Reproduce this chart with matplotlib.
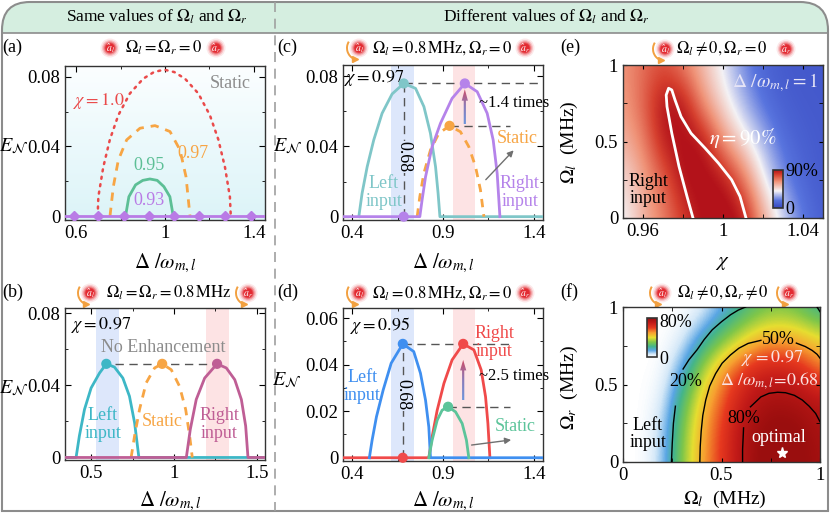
import numpy as np
import matplotlib
matplotlib.use('Agg')
from matplotlib import pyplot as plt, patches, colors
from matplotlib.path import Path

plt.rcParams['font.family'] = ['Liberation Serif', 'DejaVu Serif']
plt.rcParams['mathtext.fontset'] = 'stix'
plt.rcParams['font.size'] = 12
plt.rcParams['axes.linewidth'] = 1.0
plt.rcParams['axes.edgecolor'] = '#333333'

W, H = 830, 513

# ---------------- data ----------------
# (a) static, Omega_l = Omega_r = 0
a_chi10_x = [0.697, 0.700, 0.722, 0.752, 0.790, 0.842, 0.902, 0.950, 0.996, 1.042, 1.090, 1.150, 1.202, 1.240, 1.270, 1.292, 1.296]
a_chi10_y = [0, 0.011, 0.028, 0.044, 0.058, 0.0705, 0.079, 0.0828, 0.0842, 0.0828, 0.079, 0.0705, 0.058, 0.044, 0.028, 0.011, 0]
a_chi097_x = [0.7525, 0.7675, 0.790, 0.8275, 0.8875, 0.955, 1.0225, 1.0675, 1.0945, 1.1125]
a_chi097_y = [0, 0.0169, 0.0322, 0.0438, 0.0505, 0.052, 0.0486, 0.038, 0.0226, 0]
a_chi095_x = [0.8225, 0.8375, 0.8675, 0.900, 0.932, 0.965, 0.995, 1.022, 1.037]
a_chi095_y = [0, 0.0111, 0.0179, 0.0205, 0.0213, 0.0205, 0.0169, 0.0111, 0]
a_chi093_x = [0.55, 0.59, 0.70, 0.815, 0.93, 1.04, 1.155, 1.27, 1.385, 1.45]
a_chi093_y = [0, 0, 0, 0, 0, 0, 0, 0, 0, 0]

# (b) Omega_l = Omega_r = 0.8 MHz, chi = 0.97
b_left_x = [0.34, 0.407, 0.427, 0.458, 0.498, 0.549, 0.590, 0.639, 0.690, 0.730, 0.761, 0.787, 1.55]
b_left_y = [0, 0, 0.012, 0.0267, 0.0386, 0.0469, 0.052, 0.0502, 0.0441, 0.034, 0.0193, 0, 0]
b_right_x = [0.34, 1.074, 1.098, 1.134, 1.185, 1.26, 1.316, 1.367, 1.407, 1.433, 1.447, 1.55]
b_right_y = [0, 0, 0.0156, 0.0322, 0.0441, 0.052, 0.0497, 0.0432, 0.0322, 0.0175, 0, 0]
b_static_x = [0.740, 0.761, 0.791, 0.831, 0.882, 0.928, 0.983, 1.033, 1.070, 1.094, 1.110]
b_static_y = [0, 0.012, 0.0267, 0.0414, 0.0497, 0.052, 0.0487, 0.0395, 0.0267, 0.012, 0]
b_peak_x = [0.59, 0.928, 1.26]
b_peak_y = [0.052, 0.052, 0.052]

# (c) Omega_l = 0.8 MHz, Omega_r = 0, chi = 0.97
c_left_x = [0.437, 0.455, 0.483, 0.519, 0.565, 0.620, 0.684, 0.749, 0.795, 0.831, 0.859, 0.873, 0.883, 1.45]
c_left_y = [0, 0.0133, 0.0284, 0.0436, 0.0588, 0.0698, 0.0758, 0.073, 0.0626, 0.0474, 0.0284, 0.0133, 0, 0]
c_right_x = [0.35, 0.7725, 0.785, 0.804, 0.840, 0.886, 0.950, 1.020, 1.088, 1.143, 1.176, 1.198, 1.213]
c_right_y = [0, 0, 0.0095, 0.0227, 0.0398, 0.0531, 0.0673, 0.0758, 0.0711, 0.0588, 0.0436, 0.0246, 0]
c_static_x = [0.758, 0.7725, 0.7945, 0.831, 0.877, 0.936, 0.996, 1.042, 1.079, 1.106, 1.125]
c_static_y = [0, 0.0114, 0.0246, 0.0379, 0.0474, 0.0517, 0.0483, 0.0398, 0.0284, 0.0152, 0]

# (d) Omega_l = 0.8 MHz, Omega_r = 0, chi = 0.95
d_left_x = [0.495, 0.510, 0.534, 0.571, 0.615, 0.679, 0.739, 0.776, 0.804, 0.822, 0.831, 1.45]
d_left_y = [0, 0.0075, 0.0176, 0.0291, 0.0406, 0.0489, 0.0456, 0.0363, 0.0247, 0.0132, 0, 0]
d_right_x = [0.35, 0.822, 0.840, 0.868, 0.905, 0.950, 1.011, 1.070, 1.110, 1.134, 1.147, 1.158]
d_right_y = [0, 0, 0.0089, 0.0204, 0.0319, 0.042, 0.0489, 0.0463, 0.0377, 0.0262, 0.0147, 0]
d_static_x = [0.822, 0.840, 0.868, 0.895, 0.928, 0.969, 1.0055, 1.029, 1.042]
d_static_y = [0, 0.0075, 0.0161, 0.0204, 0.0219, 0.0197, 0.0147, 0.0075, 0]

# (e) eta (%) vs chi and Omega_l
e_chi = [0.95, 0.96, 0.97, 0.98, 0.99, 1.00, 1.01, 1.02, 1.03, 1.04, 1.05]
e_om = [0, 0.25, 0.5, 0.75, 1.0]
e_eta = [[38, 55, 66, 80, 91, 94, 91, 58, 36, 18, 10],
         [45, 58, 72, 91, 93, 91, 70, 40, 22, 12, 8],
         [55, 65, 88, 92, 90.5, 62, 45, 30, 15, 10, 8],
         [60, 72, 91, 90.5, 62, 45, 30, 16, 10, 8, 8],
         [62, 70, 76, 66, 52, 38, 22, 12, 8, 8, 8]]
e_c90_x = [0.985, 0.982, 0.978, 0.9744, 0.972, 0.9716, 0.9728, 0.9744, 0.976, 0.979, 0.984, 0.991, 0.9977, 1.0043, 1.0085, 1.0115]
e_c90_y = [0, 0.141, 0.337, 0.554, 0.728, 0.804, 0.848, 0.837, 0.772, 0.663, 0.554, 0.457, 0.359, 0.25, 0.141, 0]

# (f) eta (%) vs Omega_l and Omega_r
f_oml = [0, 0.1, 0.2, 0.3, 0.4, 0.5, 0.6, 0.7, 0.8, 0.9, 1.0]
f_omr = [0, 0.2, 0.4, 0.6, 0.8, 1.0]
f_eta = [[0, 0, 9, 34, 52, 65, 79, 86, 88, 86, 82],
         [0, 0, 8, 32, 51, 64, 79, 85, 87, 85, 81],
         [0, 0, 4, 26, 47, 60, 73, 81, 82, 80.5, 77],
         [0, 0, 1, 14, 36, 53, 64, 71, 72, 68, 57],
         [0, 0, 0, 4, 17, 30, 41, 50, 51, 49, 43],
         [0, 0, 0, 0, 3, 12, 21, 28, 31, 27, 19]]
f_c20a_x = [0.246, 0.250, 0.256, 0.266]
f_c20a_y = [0, 0.12, 0.25, 0.36]
f_c20b_x = [0.305, 0.335, 0.376, 0.412, 0.453, 0.500, 0.546, 0.585, 0.622]
f_c20b_y = [0.60, 0.66, 0.724, 0.79, 0.853, 0.905, 0.950, 0.98, 1.0]
f_c20c_x = [0.985, 1.0]
f_c20c_y = [1.0, 0.97]
f_c50a_x = [0.390, 0.392, 0.397, 0.405, 0.420, 0.440, 0.470, 0.503, 0.545, 0.588, 0.635, 0.700]
f_c50a_y = [0, 0.10, 0.20, 0.30, 0.40, 0.49, 0.57, 0.637, 0.69, 0.734, 0.765, 0.785]
f_c50b_x = [0.880, 0.925, 0.960, 0.985, 1.0]
f_c50b_y = [0.767, 0.745, 0.72, 0.695, 0.67]
f_c80a_x = [0.607, 0.607, 0.610, 0.612]
f_c80a_y = [0, 0.08, 0.16, 0.22]
f_c80b_x = [0.647, 0.70, 0.741, 0.785, 0.825, 0.87, 0.91, 0.945, 0.978, 1.0]
f_c80b_y = [0.356, 0.42, 0.443, 0.45, 0.447, 0.43, 0.40, 0.36, 0.313, 0.26]
f_opt = (0.805, 0.06)

# ---------------- figure ----------------
fig = plt.figure(figsize=(W / 100, H / 100), dpi=100)
ov = fig.add_axes([0, 0, 1, 1])
ov.set_xlim(0, W)
ov.set_ylim(H, 0)
ov.axis('off')

# outer frame with rounded top corners, header band
r = 28
def frame_path(ybot):
    verts = [(2, ybot), (2, 2 + r), (2, 2), (2 + r, 2), (W - 2 - r, 2), (W - 2, 2),
             (W - 2, 2 + r), (W - 2, ybot)]
    codes = [Path.MOVETO, Path.LINETO, Path.CURVE3, Path.CURVE3, Path.LINETO,
             Path.CURVE3, Path.CURVE3, Path.LINETO]
    return Path(verts, codes)

ov.add_patch(patches.PathPatch(frame_path(33), fc='#d5eee0', ec='none'))
ov.add_patch(patches.PathPatch(frame_path(511), fc='none', ec='#8c8c8c', lw=1.5))
ov.plot([2, W - 2], [511, 511], color='#8c8c8c', lw=1.5)
ov.plot([2, W - 2], [33, 33], color='#8c8c8c', lw=1.2)
ov.plot([275, 275], [2, 511], color='#a0a0a0', lw=1.2, ls=(0, (6, 4)))

ov.text(157, 17, r'Same values of $\Omega_l$ and $\Omega_r$', ha='center', va='center', fontsize=12.5)
ov.text(546, 17, r'Different values of $\Omega_l$ and $\Omega_r$', ha='center', va='center', fontsize=12.5)


def icon(cx, cy, sub, spin=False):
    for rr, al in [(9.5, 0.10), (8, 0.18), (6.8, 0.3), (5.6, 0.55), (4.6, 0.9)]:
        ov.add_patch(patches.Circle((cx, cy), rr, color='#e3262e', alpha=al, lw=0))
    ov.text(cx, cy + 0.5, r'$\hat{a}_%s$' % sub, color='white', fontsize=7, ha='center', va='center')
    if spin:
        ov.add_patch(patches.Arc((cx, cy), 24, 24, theta1=115, theta2=212, color='#f2a040', lw=1.4))
        ov.plot([cx - 4], [cy + 11.2], marker='>', color='#f2a040', ms=4)


titles = [(110, 216, 48, r'$\Omega_l=\Omega_r=0$', 163, False, False),
          (90, 248, 293, r'$\Omega_l=\Omega_r=0.8\,\mathrm{MHz}$', 169, True, True),
          (359, 525, 48, r'$\Omega_l=0.8\,\mathrm{MHz},\Omega_r=0$', 442, True, False),
          (359, 525, 293, r'$\Omega_l=0.8\,\mathrm{MHz},\Omega_r=0$', 442, True, False),
          (665, 786, 49, r'$\Omega_l\neq0,\Omega_r=0$', 722, True, False),
          (662, 789, 293, r'$\Omega_l\neq0,\Omega_r\neq0$', 723, True, True)]
for xl, xr, yy, txt, xt, spl, spr in titles:
    icon(xl, yy, 'l', spl)
    icon(xr, yy, 'r', spr)
    ov.text(xt, yy, txt, ha='center', va='center', fontsize=12)

for lab, x, y in [('(a)', 2, 47), ('(b)', 2, 292), ('(c)', 277, 47), ('(d)', 277, 292),
                  ('(e)', 560, 47), ('(f)', 560, 292)]:
    ov.text(x, y, lab, ha='left', va='center', fontsize=13)

xl_txt = r'$\Delta\ /\omega_{m,l}$'
for x, y in [(165, 263), (170, 501), (443, 263), (443, 501)]:
    ov.text(x, y, xl_txt, ha='center', va='center', fontsize=15)
for x, y in [(14, 146), (14, 388), (288, 146), (287, 380)]:
    ov.text(x, y, r'$E_{\mathcal{N}}$', ha='center', va='center', fontsize=14.5)
ov.text(722, 262, r'$\chi$', ha='center', va='center', fontsize=15)
ov.text(725, 499, r'$\Omega_l$  (MHz)', ha='center', va='center', fontsize=14)
ov.text(569, 142, r'$\Omega_l$  (MHz)', ha='center', va='center', fontsize=14, rotation=90)
ov.text(569, 387, r'$\Omega_r$  (MHz)', ha='center', va='center', fontsize=14, rotation=90)
ov.text(767, 188, r'$\eta$', ha='center', va='center', fontsize=15)
ov.text(641, 338, r'$\eta$', ha='center', va='center', fontsize=15)


def add_ax(x0, y0, x1, y1):
    ax = fig.add_axes([x0 / W, 1 - y1 / H, (x1 - x0) / W, (y1 - y0) / H])
    ax.tick_params(which='both', direction='in', top=True, right=True, labelsize=13.5, pad=3.5)
    ax.tick_params(which='major', length=4)
    ax.tick_params(which='minor', length=2.5)
    return ax


def guide(ax, xs, ys):
    ax.plot(xs, ys, color='#555555', lw=1.0, ls=(0, (6, 4)), zorder=2)


arrow_cmap = colors.LinearSegmentedColormap.from_list('arr', ['#6d95dc', '#8a7ab8', '#d04a64'])


def grad_arrow(ax, x, y0, y1, w, hw, hl):
    arr = patches.FancyArrow(x, y0, 0, y1 - y0, width=w, head_width=hw, head_length=hl,
                             length_includes_head=True, fc='none', ec='none')
    ax.add_patch(arr)
    g = np.linspace(0, 1, 60).reshape(-1, 1)
    im = ax.imshow(g, extent=[x - hw, x + hw, y0, y1], origin='lower', aspect='auto',
                   cmap=arrow_cmap, zorder=4)
    im.set_clip_path(arr)


def gray_arrow(ax, tail, tip):
    ax.annotate('', xy=tip, xytext=tail,
                arrowprops=dict(arrowstyle='-|>', color='#707070', lw=1.0, mutation_scale=9), zorder=4)


FS = 13  # annotation text size

# ---------------- (a) ----------------
ax = add_ax(65, 66, 265, 220)
bg = colors.LinearSegmentedColormap.from_list('bg', ['#dcf4f8', '#fbfeff'])
ax.imshow(np.linspace(0, 1, 100).reshape(-1, 1), extent=[0, 1, 0, 1], transform=ax.transAxes,
          origin='lower', aspect='auto', cmap=bg, zorder=0)
ax.plot(a_chi10_x, a_chi10_y, color='#ea4a4a', lw=1.8, ls=(0, (0.8, 2.2)), dash_capstyle='round', zorder=3)
ax.plot(a_chi097_x, a_chi097_y, color='#f7a544', lw=2.0, ls=(0, (3, 2.5)), zorder=3)
ax.plot(a_chi095_x, a_chi095_y, color='#5cbf96', lw=2.0, zorder=3)
ax.plot(a_chi093_x, a_chi093_y, color='#b97be6', lw=2.0, zorder=4)
ax.plot(a_chi093_x[1:-1], a_chi093_y[1:-1], ls='none', marker='D', ms=5, color='#b97be6', zorder=5)
ax.set_xlim(0.55, 1.45)
ax.set_ylim(-0.0023, 0.0863)
ax.set_xticks([0.6, 1.0, 1.4], ['0.6', '1', '1.4'])
ax.set_xticks([0.8, 1.2], minor=True)
ax.set_yticks([0, 0.04, 0.08], ['0', '0.04', '0.08'])
ax.set_yticks([0.02, 0.06], minor=True)
ax.text(1.2925, 0.076, 'Static', color='#8c8c8c', ha='center', va='center', fontsize=FS)
ax.text(0.7025, 0.0659, r'$\chi=1.0$', color='#ea4a4a', ha='center', va='center', fontsize=FS)
ax.text(1.1275, 0.0357, '0.97', color='#f7a544', ha='center', va='center', fontsize=FS)
ax.text(0.9275, 0.0288, '0.95', color='#5cbf96', ha='center', va='center', fontsize=FS)
ax.text(0.9275, 0.0092, '0.93', color='#b97be6', ha='center', va='center', fontsize=FS)

# ---------------- (b) ----------------
ax = add_ax(65, 308, 265, 460)
ax.axvspan(0.528, 0.666, color='#dde7fb', lw=0, zorder=0.5)
ax.axvspan(1.195, 1.332, color='#fde3e4', lw=0, zorder=0.5)
guide(ax, [0.64, 1.22], [0.052, 0.052])
ax.plot(b_left_x, b_left_y, color='#3db7c6', lw=2.0, zorder=3)
ax.plot(b_static_x, b_static_y, color='#f7a544', lw=2.0, ls=(0, (3, 2.5)), zorder=3)
ax.plot(b_right_x, b_right_y, color='#bf5e95', lw=2.0, zorder=3)
ax.scatter(b_peak_x, b_peak_y, s=40, c=['#3db7c6', '#f7a544', '#bf5e95'], zorder=5)
ax.set_xlim(0.34, 1.55)
ax.set_ylim(-0.0014, 0.083)
ax.set_xticks([0.5, 1.0, 1.5], ['0.5', '1', '1.5'])
ax.set_xticks([0.75, 1.25], minor=True)
ax.set_yticks([0, 0.04, 0.08], ['0', '0.04', '0.08'])
ax.set_yticks([0.02, 0.06], minor=True)
ax.text(0.5586, 0.0736, r'$\chi=0.97$', ha='center', va='center', fontsize=FS)
ax.text(0.932, 0.061, 'No Enhancement', color='#8c8c8c', ha='center', va='center', fontsize=FS)
ax.text(0.569, 0.0184, 'Left\ninput', color='#3db7c6', ha='center', va='center', fontsize=FS, linespacing=1.05)
ax.text(0.928, 0.0197, 'Static', color='#f7a544', ha='center', va='center', fontsize=FS)
ax.text(1.272, 0.0184, 'Right\ninput', color='#bf5e95', ha='center', va='center', fontsize=FS, linespacing=1.05)

# ---------------- (c) ----------------
ax = add_ax(343, 65, 543, 220)
ax.axvspan(0.6165, 0.743, color='#dde7fb', lw=0, zorder=0.5)
ax.axvspan(0.954, 1.075, color='#fde3e4', lw=0, zorder=0.5)
guide(ax, [0.684, 1.437], [0.0758, 0.0758])
guide(ax, [0.936, 1.268], [0.0517, 0.0517])
guide(ax, [0.684, 0.684], [0, 0.0758])
ax.plot(c_left_x, c_left_y, color='#7fc6c8', lw=2.0, zorder=3)
ax.plot(c_static_x, c_static_y, color='#f7a544', lw=2.0, ls=(0, (3, 2.5)), zorder=3)
ax.plot(c_right_x, c_right_y, color='#b583ea', lw=2.0, zorder=3)
ax.scatter([0.684, 0.684, 1.02, 0.936], [0.0758, 0, 0.0758, 0.0517], s=40,
           c=['#7fc6c8', '#b583ea', '#b583ea', '#f7a544'], zorder=5, clip_on=False)
grad_arrow(ax, 1.02, 0.0525, 0.0725, 0.012, 0.034, 0.0065)
gray_arrow(ax, (1.125, 0.0199), (1.299, 0.0389))
ax.set_xlim(0.35, 1.45)
ax.set_ylim(-0.0019, 0.0863)
ax.set_xticks([0.4, 0.9, 1.4], ['0.4', '0.9', '1.4'])
ax.set_xticks([0.65, 1.15], minor=True)
ax.set_yticks([0, 0.04, 0.08], ['0', '0.04', '0.08'])
ax.set_yticks([0.02, 0.06], minor=True)
ax.text(0.684, 0.034, '0.68', rotation=270, ha='center', va='center', fontsize=FS,
        bbox=dict(fc='#dde7fb', ec='none', pad=0.5), zorder=3)
ax.text(0.52, 0.079, r'$\chi=0.97$', ha='center', va='center', fontsize=FS)
ax.text(1.097, 0.0645, '~1.4 times', ha='left', va='center', fontsize=12)
ax.text(1.308, 0.0445, 'Static', color='#f7a544', ha='center', va='center', fontsize=FS)
ax.text(0.574, 0.0137, 'Left\ninput', color='#7fc6c8', ha='center', va='center', fontsize=FS, linespacing=1.05)
ax.text(1.323, 0.0137, 'Right\ninput', color='#b583ea', ha='center', va='center', fontsize=FS, linespacing=1.05)

# ---------------- (d) ----------------
ax = add_ax(343, 308, 543, 461)
ax.axvspan(0.6165, 0.743, color='#dde7fb', lw=0, zorder=0.5)
ax.axvspan(0.954, 1.075, color='#fde3e4', lw=0, zorder=0.5)
guide(ax, [0.679, 1.272], [0.0489, 0.0489])
guide(ax, [0.928, 1.27], [0.0219, 0.0219])
guide(ax, [0.679, 0.679], [0, 0.0489])
ax.plot(d_right_x, d_right_y, color='#f04a4a', lw=2.0, zorder=3)
ax.plot(d_left_x, d_left_y, color='#3f8ff0', lw=2.0, zorder=3)
ax.plot(d_static_x, d_static_y, color='#5cc49a', lw=2.0, zorder=3)
ax.scatter([0.679, 0.679, 1.011, 0.928], [0.0489, 0, 0.0489, 0.0219], s=40,
           c=['#3f8ff0', '#f04a4a', '#f04a4a', '#5cc49a'], zorder=5, clip_on=False)
grad_arrow(ax, 1.011, 0.0247, 0.042, 0.012, 0.034, 0.0045)
gray_arrow(ax, (1.042, 0.0053), (1.29, 0.0078))
ax.set_xlim(0.35, 1.45)
ax.set_ylim(-0.0014, 0.0643)
ax.set_xticks([0.4, 0.9, 1.4], ['0.4', '0.9', '1.4'])
ax.set_xticks([0.65, 1.15], minor=True)
ax.set_yticks([0, 0.02, 0.04, 0.06], ['0', '0.02', '0.04', '0.06'])
ax.set_yticks([0.01, 0.03, 0.05], minor=True)
ax.text(0.679, 0.027, '0.68', rotation=270, ha='center', va='center', fontsize=FS,
        bbox=dict(fc='#dde7fb', ec='none', pad=0.5), zorder=3)
ax.text(0.556, 0.0567, r'$\chi=0.95$', ha='center', va='center', fontsize=FS)
ax.text(1.097, 0.0351, '~2.5 times', ha='left', va='center', fontsize=12)
ax.text(1.295, 0.0135, 'Static', color='#5cc49a', ha='center', va='center', fontsize=FS)
ax.text(0.455, 0.0305, 'Left\ninput', color='#3f8ff0', ha='center', va='center', fontsize=FS, linespacing=1.05)
ax.text(1.183, 0.0495, 'Right\ninput', color='#f04a4a', ha='center', va='center', fontsize=FS, linespacing=1.05)

# ---------------- (e) ----------------
ax = add_ax(623, 65, 823, 218)
cm_e = colors.LinearSegmentedColormap.from_list(
    'e', [(0, '#3646bf'), (0.2, '#5874de'), (0.45, '#f4f2f5'), (0.7, '#ef9277'),
          (0.88, '#d6402f'), (1.0, '#b3121a')])
im_e = ax.imshow(np.array(e_eta), extent=[0.945, 1.055, -0.125, 1.125], origin='lower',
                 aspect='auto', cmap=cm_e, vmin=0, vmax=90, interpolation='bicubic', zorder=0)
ax.plot(e_c90_x, e_c90_y, color='white', lw=2.0, zorder=3)
ax.set_xlim(0.95, 1.05)
ax.set_ylim(0, 1)
ax.set_xticks([0.96, 1.0, 1.04], ['0.96', '1', '1.04'])
ax.set_xticks([0.98, 1.02], minor=True)
ax.set_yticks([0, 0.5, 1], ['0', '0.5', '1'])
ax.set_yticks([0.25, 0.75], minor=True)
ax.tick_params(which='both', length=3)
ax.text(1.026, 0.882, r'$\Delta\ /\omega_{m,l}=1$', color='#e6e4f6', ha='center', va='center', fontsize=14)
ax.text(1.01, 0.523, r'$\eta=90\%$', color='white', ha='center', va='center', fontsize=15)
ax.text(0.9625, 0.183, 'Right\ninput', ha='center', va='center', fontsize=FS, linespacing=1.05)
cax = fig.add_axes([773 / W, 1 - 208 / H, 10 / W, 38 / H])
cb = fig.colorbar(im_e, cax=cax, ticks=[0, 90])
cb.ax.set_yticklabels(['0', '90%'])
cb.ax.tick_params(length=0, labelsize=13, pad=2)
cb.outline.set_linewidth(1.2)

# ---------------- (f) ----------------
ax = add_ax(623, 307, 820, 462)
cm_f = colors.LinearSegmentedColormap.from_list(
    'f', [(0, '#ffffff'), (0.07, '#d4e8f8'), (0.17, '#5aa6e4'), (0.27, '#44b58a'),
          (0.38, '#7ec64a'), (0.50, '#e6de30'), (0.62, '#f7a030'), (0.75, '#e6391f'),
          (0.88, '#c21a18'), (1.0, '#9a0e0e')])
im_f = ax.imshow(np.array(f_eta), extent=[-0.05, 1.05, -0.1, 1.1], origin='lower',
                 aspect='auto', cmap=cm_f, vmin=0, vmax=85, interpolation='bicubic', zorder=0)
for cx, cy in [(f_c20a_x, f_c20a_y), (f_c20b_x, f_c20b_y), (f_c20c_x, f_c20c_y),
               (f_c50a_x, f_c50a_y), (f_c50b_x, f_c50b_y),
               (f_c80a_x, f_c80a_y), (f_c80b_x, f_c80b_y)]:
    ax.plot(cx, cy, color='black', lw=1.0, zorder=3)
ax.plot([f_opt[0]], [f_opt[1]], marker='*', color='white', ms=8, ls='none', zorder=4)
ax.set_xlim(0, 1)
ax.set_ylim(0, 1)
ax.set_xticks([0, 0.5, 1], ['0', '0.5', '1'])
ax.set_xticks([0.25, 0.75], minor=True)
ax.set_yticks([0, 0.5, 1], ['0', '0.5', '1'])
ax.set_yticks([0.25, 0.75], minor=True)
ax.tick_params(which='both', length=3)
ax.text(0.317, 0.518, '20%', ha='center', va='center', fontsize=FS)
ax.text(0.79, 0.79, '50%', ha='center', va='center', fontsize=FS)
ax.text(0.614, 0.281, '80%', ha='center', va='center', fontsize=FS)
ax.text(0.756, 0.668, r'$\chi\,=0.97$', color='#fbe2e2', ha='center', va='center', fontsize=13)
ax.text(0.745, 0.525, r'$\Delta\ /\omega_{m,l}\!=\!0.68$', color='#fbe2e2', ha='center', va='center', fontsize=13)
ax.text(0.127, 0.18, 'Left\ninput', ha='center', va='center', fontsize=FS, linespacing=1.05)
ax.text(0.79, 0.155, 'optimal', color='white', ha='center', va='center', fontsize=FS)
cax = fig.add_axes([647 / W, 1 - 357 / H, 10 / W, 39 / H])
cb = fig.colorbar(im_f, cax=cax, ticks=[0, 80])
cb.ax.set_yticklabels(['0', '80%'])
cb.ax.tick_params(length=0, labelsize=13, pad=2)
cb.outline.set_linewidth(1.2)

fig.savefig('out.png', dpi=100)
